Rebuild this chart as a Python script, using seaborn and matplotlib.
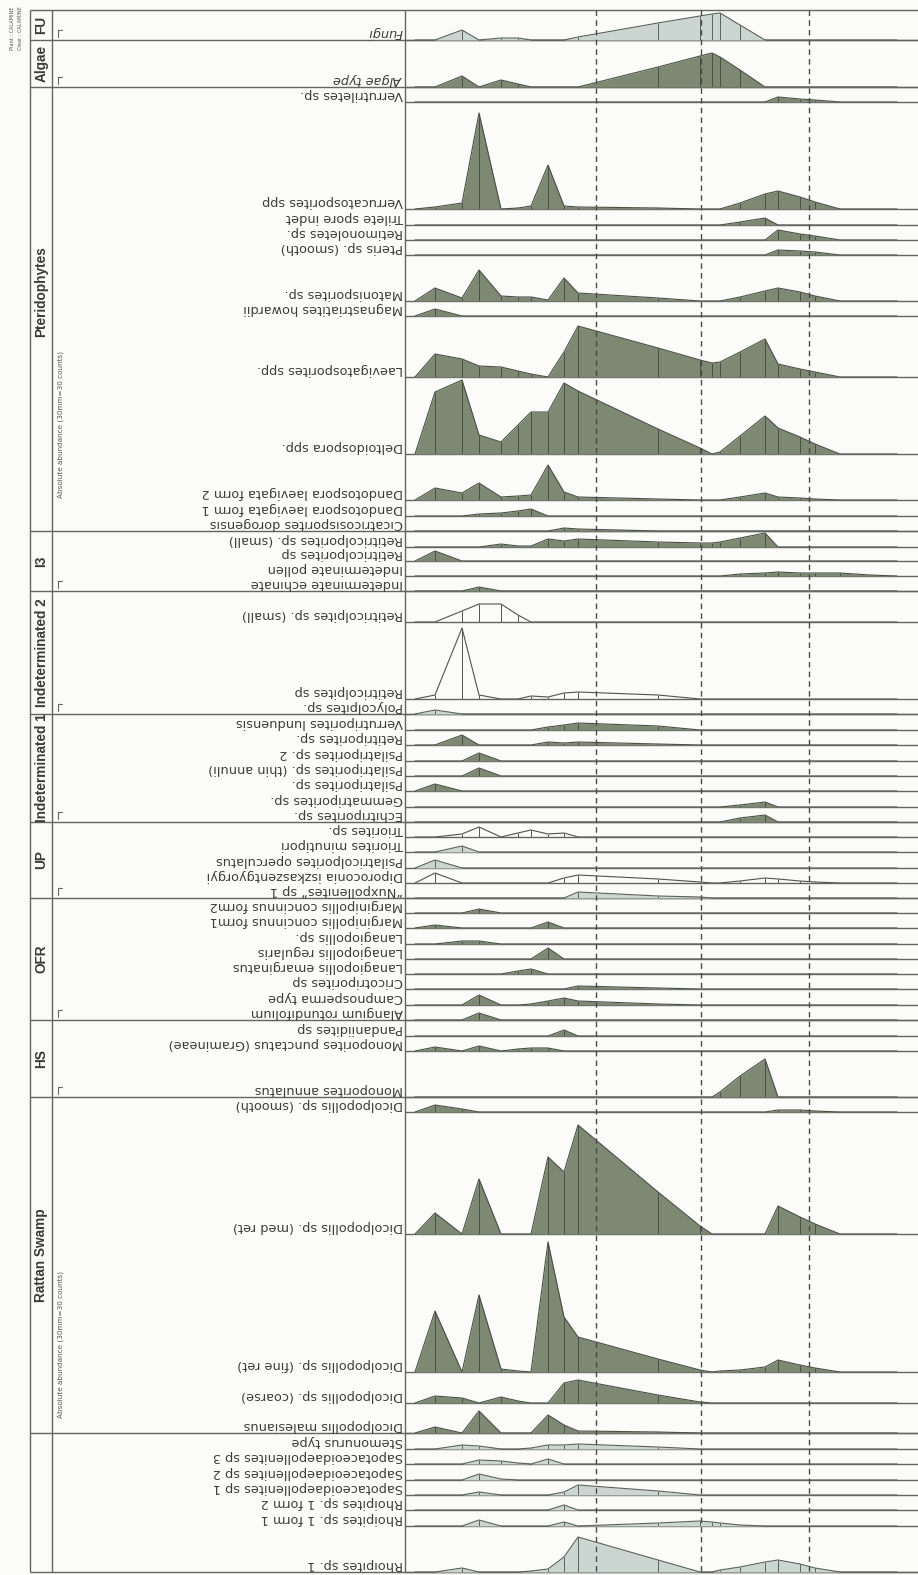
import matplotlib
matplotlib.use("Agg")
import matplotlib.pyplot as plt
import seaborn as sns

sns.set_theme(style="white")
plt.rcParams['font.family'] = ['DejaVu Sans']

W, H = 918, 1575

# sample positions along the section (same for every taxon)
positions = [10, 30, 57, 74, 96, 113, 126, 143, 159, 173, 253, 295, 307, 315, 335, 360, 373, 395, 410, 435, 465, 492]

# counts per taxon, one list per taxon, in the order of the positions above
fu_taxa = ["Fungi"]
fu_counts = [[0, 0, 10, 0, 2, 2, 0, 0, 0, 3, 17, 24, 26, 27, 15, 0, 0, 0, 0, 0, 0, 0]]

algae_taxa = ["Algae type"]
algae_counts = [[0, 0, 11, 0, 7, 3, 0, 0, 0, 0, 20, 31, 34, 30, 17, 0, 0, 0, 0, 0, 0, 0]]

pter_taxa = ["Verrutriletes sp.", "Verrucatosporites spp", "Trilete spore indet", "Retimonoletes sp.",
             "Pteris sp. (smooth)", "Matonisporites sp.", "Magnastriatites howardii", "Laevigatosporites spp.",
             "Deltoidospora spp.", "Dandotospora laevigata form 2", "Dandotospora laevigata form 1",
             "Cicatricosisporites dorogensis"]
pter_counts = [
    [0, 0, 0, 0, 0, 0, 0, 0, 0, 0, 0, 0, 0, 0, 0, 0, 5, 3, 2, 0, 0, 0],
    [0, 2, 6, 96, 0, 1, 3, 44, 3, 2, 1, 0, 0, 0, 6, 15, 18, 12, 7, 0, 0, 0],
    [0, 0, 0, 0, 0, 0, 0, 0, 0, 0, 0, 0, 0, 0, 3, 7, 0, 0, 0, 0, 0, 0],
    [0, 0, 0, 0, 0, 0, 0, 0, 0, 0, 0, 0, 0, 0, 0, 0, 10, 6, 4, 0, 0, 0],
    [0, 0, 0, 0, 0, 0, 0, 0, 0, 0, 0, 0, 0, 0, 0, 0, 5, 4, 3, 0, 0, 0],
    [0, 13, 3, 31, 5, 4, 4, 1, 23, 8, 3, 0, 0, 0, 4, 10, 13, 9, 5, 0, 0, 0],
    [0, 7, 0, 0, 0, 0, 0, 0, 0, 0, 0, 0, 0, 0, 0, 0, 0, 0, 0, 0, 0, 0],
    [0, 23, 18, 11, 10, 6, 3, 0, 25, 51, 29, 17, 14, 15, 25, 38, 13, 8, 5, 0, 0, 0],
    [0, 62, 74, 19, 12, 29, 42, 42, 71, 63, 25, 6, 0, 2, 18, 38, 26, 17, 10, 0, 0, 0],
    [0, 12, 7, 17, 3, 4, 5, 35, 8, 3, 1, 0, 0, 0, 3, 7, 3, 2, 1, 0, 0, 0],
    [0, 0, 0, 2, 3, 5, 7, 0, 0, 0, 0, 0, 0, 0, 0, 0, 0, 0, 0, 0, 0, 0],
    [0, 0, 0, 0, 0, 0, 0, 0, 3, 2, 0, 0, 0, 0, 0, 0, 0, 0, 0, 0, 0, 0],
]

i3_taxa = ["Retitricolporites sp. (small)", "Retitricolporites sp", "Indeterminate pollen",
           "Indeterminate echinate"]
i3_counts = [
    [0, 0, 0, 0, 3, 1, 1, 8, 6, 8, 5, 4, 4, 5, 9, 14, 0, 0, 0, 0, 0, 0],
    [0, 10, 0, 0, 0, 0, 0, 0, 0, 0, 0, 0, 0, 0, 0, 0, 0, 0, 0, 0, 0, 0],
    [0, 0, 0, 0, 0, 0, 0, 0, 0, 0, 0, 0, 0, 0, 2, 3, 4, 3, 3, 3, 1, 0],
    [0, 0, 0, 4, 0, 0, 0, 0, 0, 0, 0, 0, 0, 0, 0, 0, 0, 0, 0, 0, 0, 0],
]

ind2_taxa = ["Retitricolpites sp. (small)", "Retitricolpites sp", "Polycolpites sp."]
ind2_counts = [
    [0, 0, 11, 18, 18, 7, 0, 0, 0, 0, 0, 0, 0, 0, 0, 0, 0, 0, 0, 0, 0, 0],
    [0, 4, 71, 4, 0, 0, 3, 2, 6, 7, 4, 0, 0, 0, 0, 0, 0, 0, 0, 0, 0, 0],
    [0, 4, 0, 0, 0, 0, 0, 0, 0, 0, 0, 0, 0, 0, 0, 0, 0, 0, 0, 0, 0, 0],
]

ind1_taxa = ["Verrutriporites lunduensis", "Retitriporites sp.", "Psilatriporites sp. 2",
             "Psilatriporites sp. (thin annuli)", "Psilatriporites sp.", "Gemmatriporites sp.",
             "Echitriporites sp."]
ind1_counts = [
    [0, 0, 0, 0, 0, 0, 0, 3, 5, 7, 4, 0, 0, 0, 0, 0, 0, 0, 0, 0, 0, 0],
    [0, 0, 10, 0, 0, 0, 0, 3, 2, 3, 1, 0, 0, 0, 0, 0, 0, 0, 0, 0, 0, 0],
    [0, 0, 0, 8, 0, 0, 0, 0, 0, 0, 0, 0, 0, 0, 0, 0, 0, 0, 0, 0, 0, 0],
    [0, 0, 0, 8, 0, 0, 0, 0, 0, 0, 0, 0, 0, 0, 0, 0, 0, 0, 0, 0, 0, 0],
    [0, 7, 0, 0, 0, 0, 0, 0, 0, 0, 0, 0, 0, 0, 0, 0, 0, 0, 0, 0, 0, 0],
    [0, 0, 0, 0, 0, 0, 0, 0, 0, 0, 0, 0, 0, 0, 2, 5, 0, 0, 0, 0, 0, 0],
    [0, 0, 0, 0, 0, 0, 0, 0, 0, 0, 0, 0, 0, 0, 4, 7, 0, 0, 0, 0, 0, 0],
]

up_taxa = ["Triorites sp.", "Triorites minutipori", "Psilatricolporites operculatus",
           "Diporoconia iszkaszentgyorgyi", "\u201cNuxpollenites\u201d sp 1"]
up_counts = [
    [0, 0, 3, 10, 0, 4, 7, 3, 4, 0, 0, 0, 0, 0, 0, 0, 0, 0, 0, 0, 0, 0],
    [0, 0, 6, 0, 0, 0, 0, 0, 0, 0, 0, 0, 0, 0, 0, 0, 0, 0, 0, 0, 0, 0],
    [0, 8, 0, 0, 0, 0, 0, 0, 0, 0, 0, 0, 0, 0, 0, 0, 0, 0, 0, 0, 0, 0],
    [0, 10, 0, 0, 0, 0, 0, 0, 5, 8, 4, 1, 0, 0, 2, 5, 4, 2, 1, 0, 0, 0],
    [0, 0, 0, 0, 0, 0, 0, 0, 0, 6, 2, 1, 0, 0, 0, 0, 0, 0, 0, 0, 0, 0],
]

ofr_taxa = ["Marginipollis concinnus form2", "Marginipollis concinnus form1", "Lanagiopollis sp.",
            "Lanagiopollis regularis", "Lanagiopollis emarginatus", "Cricotriporites sp",
            "Campnosperma type", "Alangium rotundifolium"]
ofr_counts = [
    [0, 0, 0, 4, 0, 0, 0, 0, 0, 0, 0, 0, 0, 0, 0, 0, 0, 0, 0, 0, 0, 0],
    [0, 3, 0, 0, 0, 0, 0, 6, 0, 0, 0, 0, 0, 0, 0, 0, 0, 0, 0, 0, 0, 0],
    [0, 0, 3, 3, 0, 0, 0, 0, 0, 0, 0, 0, 0, 0, 0, 0, 0, 0, 0, 0, 0, 0],
    [0, 0, 0, 0, 0, 0, 0, 11, 0, 0, 0, 0, 0, 0, 0, 0, 0, 0, 0, 0, 0, 0],
    [0, 0, 0, 0, 0, 3, 5, 0, 0, 0, 0, 0, 0, 0, 0, 0, 0, 0, 0, 0, 0, 0],
    [0, 0, 0, 0, 0, 0, 0, 0, 0, 3, 1, 0, 0, 0, 0, 0, 0, 0, 0, 0, 0, 0],
    [0, 0, 0, 10, 0, 0, 1, 4, 7, 4, 1, 0, 0, 0, 0, 0, 0, 0, 0, 0, 0, 0],
    [0, 0, 0, 7, 0, 0, 0, 0, 0, 0, 0, 0, 0, 0, 0, 0, 0, 0, 0, 0, 0, 0],
]

hs_taxa = ["Pandaniidites sp", "Monoporites punctatus (Gramineae)", "Monoporites annulatus"]
hs_counts = [
    [0, 0, 0, 0, 0, 0, 0, 0, 6, 0, 0, 0, 0, 0, 0, 0, 0, 0, 0, 0, 0, 0],
    [0, 4, 0, 5, 0, 2, 3, 3, 0, 0, 0, 0, 0, 0, 0, 0, 0, 0, 0, 0, 0, 0],
    [0, 0, 0, 0, 0, 0, 0, 0, 0, 0, 0, 0, 0, 5, 21, 38, 0, 0, 0, 0, 0, 0],
]

rattan_taxa = ["Dicolpopollis sp. (smooth)", "Dicolpopollis sp. (med ret)", "Dicolpopollis sp. (fine ret)",
               "Dicolpopollis sp. (coarse)", "Dicolpopollis malesianus"]
rattan_counts = [
    [0, 7, 3, 0, 0, 0, 0, 0, 0, 0, 0, 0, 0, 0, 0, 0, 2, 2, 1, 0, 0, 0],
    [0, 21, 0, 55, 0, 0, 0, 77, 62, 109, 42, 8, 0, 0, 0, 0, 28, 17, 10, 0, 0, 0],
    [0, 61, 0, 77, 3, 1, 0, 130, 55, 35, 13, 2, 0, 1, 2, 5, 12, 7, 4, 0, 0, 0],
    [0, 7, 5, 0, 6, 2, 0, 0, 20, 23, 8, 1, 0, 0, 0, 0, 0, 0, 0, 0, 0, 0],
    [0, 6, 0, 22, 0, 0, 0, 18, 8, 2, 1, 0, 0, 0, 0, 0, 0, 0, 0, 0, 0, 0],
]

other_taxa = ["Stemonurus type", "Sapotaceoidaepollenites sp 3", "Sapotaceoidaepollenites sp 2",
              "Sapotaceoidaepollenites sp 1", "Rhoipites sp. 1 form 2", "Rhoipites sp. 1 form 1",
              "Rhoipites sp. 1"]
other_counts = [
    [0, 0, 4, 3, 0, 0, 1, 4, 4, 5, 2, 0, 0, 0, 0, 0, 0, 0, 0, 0, 0, 0],
    [0, 0, 0, 4, 3, 1, 0, 5, 0, 0, 0, 0, 0, 0, 0, 0, 0, 0, 0, 0, 0, 0],
    [0, 0, 0, 6, 1, 0, 0, 0, 0, 0, 0, 0, 0, 0, 0, 0, 0, 0, 0, 0, 0, 0],
    [0, 0, 0, 3, 0, 0, 0, 0, 3, 10, 4, 0, 0, 0, 0, 0, 0, 0, 0, 0, 0, 0],
    [0, 0, 0, 0, 0, 0, 0, 0, 5, 0, 0, 0, 0, 0, 0, 0, 0, 0, 0, 0, 0, 0],
    [0, 0, 0, 6, 0, 0, 0, 0, 4, 0, 3, 5, 4, 3, 1, 0, 0, 0, 0, 0, 0, 0],
    [0, 0, 4, 0, 0, 0, 1, 3, 15, 35, 12, 0, 0, 2, 5, 10, 12, 8, 4, 0, 0, 0],
]

group_names = ["FU", "Algae", "Pteridophytes", "I3", "Indeterminated 2", "Indeterminated 1",
               "UP", "OFR", "HS", "Rattan Swamp", ""]
group_taxa = [fu_taxa, algae_taxa, pter_taxa, i3_taxa, ind2_taxa, ind1_taxa, up_taxa, ofr_taxa,
              hs_taxa, rattan_taxa, other_taxa]
group_counts = [fu_counts, algae_counts, pter_counts, i3_counts, ind2_counts, ind1_counts, up_counts,
                ofr_counts, hs_counts, rattan_counts, other_counts]

# ---- layout (pixels) ----
row_edges = [10, 40, 87, 102, 209, 225, 240, 255, 301, 316, 377, 454, 500, 516, 531, 547, 561, 576, 591,
             622, 699, 714, 730, 745, 761, 776, 791, 807, 822, 837, 852, 868, 883, 898, 913, 928, 944,
             959, 974, 989, 1005, 1020, 1036, 1051, 1097, 1112, 1234, 1372, 1403, 1433, 1449, 1464,
             1480, 1495, 1510, 1526, 1572]
fill_styles = ["l", "d"] + ["d"] * 12 + ["d"] * 4 + ["o", "o", "l"] + ["d"] * 7 + \
              ["o", "l", "l", "o", "l"] + ["d"] * 8 + ["d"] * 3 + ["d"] * 5 + ["l"] * 7
style_colors = {"d": ("#7d8973", "#4a5046"), "l": ("#cbd6d3", "#5b615b"), "o": ("none", "#50554f")}
italic_taxa = ["Fungi", "Algae type"]
X0, X_LEFT, X_GRP = 405, 30, 52
dashed_x = [596, 701, 809]
line_col = "#646464"

fig = plt.figure(figsize=(W / 100, H / 100), dpi=100, facecolor="#fbfbfa")
bg = fig.add_axes([0, 0, 1, 1])
bg.set_xlim(0, W)
bg.set_ylim(H, 0)
bg.axis("off")

# frame lines
bg.hlines(row_edges[0], X_LEFT, W, color=line_col, lw=1.0)
bg.vlines([X_LEFT, X_GRP, X0], row_edges[0], row_edges[-1], color=line_col, lw=1.0)

row = 0
for gname, taxa, counts in zip(group_names, group_taxa, group_counts):
    g_top = row_edges[row]
    for name, vals in zip(taxa, counts):
        top, bot = row_edges[row], row_edges[row + 1]
        h = bot - top
        fc, ec = style_colors[fill_styles[row]]
        ax = fig.add_axes([X0 / W, 1 - bot / H, (W - X0) / W, h / H])
        ax.patch.set_visible(False)
        if fc != "none":
            ax.fill_between(positions, vals, 0, color=fc, lw=0)
        sns.lineplot(x=positions, y=vals, ax=ax, color=ec, linewidth=0.8, sort=False, estimator=None)
        bars = [(p, v) for p, v in zip(positions, vals) if v > 0]
        if bars:
            ax.vlines([b[0] for b in bars], 0, [b[1] for b in bars], color=ec, lw=0.7)
        ax.set_xlim(0, W - X0)
        ax.set_ylim(0, h)
        ax.axis("off")
        bg.hlines(bot, X0, W, color=line_col, lw=1.0)
        bg.text(X0 - 2, bot - 1, name, rotation=180, ha="right", va="bottom", fontsize=9.3,
                color="#3c3c3c", style="italic" if name in italic_taxa else "normal")
        row += 1
    g_bot = row_edges[row]
    bg.hlines(g_bot, X_LEFT, W, color=line_col, lw=1.0)
    yc = (g_top + g_bot) / 2
    if gname == "Pteridophytes":
        yc = 292
    if gname == "Rattan Swamp":
        yc = 1255
    if gname:
        bg.text(41.5, yc, gname, rotation=90, ha="center", va="center", fontsize=9.8,
                fontweight="bold", color="#3a3a3a", family=["Liberation Sans", "DejaVu Sans"])
    if gname in ("FU", "Algae", "I3", "Indeterminated 2", "Indeterminated 1", "UP", "OFR", "HS"):
        bg.plot([58, 58, 62], [g_bot - 3, g_bot - 10, g_bot - 10], color="#666666", lw=0.8)

# small scale notes
for yc in (425, 1345):
    bg.text(61, yc, "Absolute abundance (30mm=30 counts)", rotation=90, ha="center", va="center",
            fontsize=5.2, color="#555555")
bg.text(13, 28, "Plant : CALAMINE", rotation=90, ha="center", va="center", fontsize=3.6, color="#555555")
bg.text(21, 28, "Clear : CALAMINE", rotation=90, ha="center", va="center", fontsize=3.6, color="#555555")

# zone boundaries over the curves
top_ax = fig.add_axes([0, 0, 1, 1])
top_ax.patch.set_visible(False)
top_ax.set_xlim(0, W)
top_ax.set_ylim(H, 0)
top_ax.axis("off")
top_ax.vlines(dashed_x, row_edges[0], row_edges[-1], color="#4a4a4a", lw=1.0, linestyles=(0, (4, 3)))

fig.savefig("out.png", dpi=100, facecolor=fig.get_facecolor())
